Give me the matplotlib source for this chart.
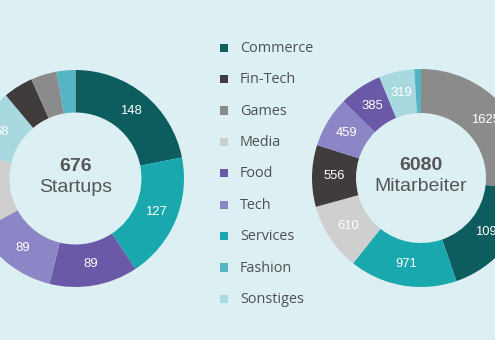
import matplotlib
matplotlib.use("Agg")
import matplotlib.pyplot as plt
import numpy as np
from matplotlib.patches import Rectangle

# Categories in legend order
categories = ["Commerce", "Fin-Tech", "Games", "Media", "Food", "Tech",
              "Services", "Fashion", "Sonstiges"]
colors = {
    "Commerce": "#0e5d5e",
    "Fin-Tech": "#403c3d",
    "Games": "#8c8b8b",
    "Media": "#cfcfcf",
    "Food": "#6a59a6",
    "Tech": "#8d86c6",
    "Services": "#19a8ad",
    "Fashion": "#55b5c4",
    "Sonstiges": "#a8d9e1",
}

# Startups per category (drawn largest first, clockwise)
startup_order = ["Commerce", "Services", "Food", "Tech", "Media",
                 "Sonstiges", "Fin-Tech", "Games", "Fashion"]
startup_values = [148, 127, 89, 89, 80, 68, 30, 26, 19]

# Employees per category (drawn largest first, clockwise)
staff_order = ["Games", "Commerce", "Services", "Media", "Fin-Tech",
               "Tech", "Food", "Sonstiges", "Fashion"]
staff_values = [1625, 1095, 971, 610, 556, 459, 385, 319, 60]

BG = "#dcf0f3"
W, H = 495, 340

fig = plt.figure(figsize=(W / 100, H / 100), dpi=100, facecolor=BG)
ax = fig.add_axes([0, 0, 1, 1])
ax.set_facecolor(BG)


def donut(order, values, cx, cy, r_out, r_in, total_txt, caption):
    wedges, _ = ax.pie(values, colors=[colors[c] for c in order],
                       startangle=90, counterclock=False,
                       radius=r_out, center=(cx, H - cy), frame=True,
                       wedgeprops=dict(width=r_out - r_in, linewidth=0))
    total = sum(values)
    r_mid = (r_out + r_in) / 2
    for w, v in zip(wedges, values):
        if v / total < 0.05:
            continue
        ang = np.deg2rad((w.theta1 + w.theta2) / 2)
        ax.text(cx + r_mid * np.cos(ang), H - cy + r_mid * np.sin(ang),
                f"{v}", color="white", ha="center", va="center",
                fontsize=9.4, family="Liberation Sans")
    ax.text(cx, H - cy + 12, total_txt, ha="center", va="center",
            fontsize=14, fontweight="bold", color="#565656",
            family="Liberation Sans")
    ax.text(cx, H - cy - 8.5, caption, ha="center", va="center",
            fontsize=14, color="#565656", family="Liberation Sans")


donut(startup_order, startup_values, 75.5, 178.5, 108.5, 66,
      f"{sum(startup_values)}", "Startups")
donut(staff_order, staff_values, 421, 178, 109, 65,
      f"{sum(staff_values)}", "Mitarbeiter")

# Legend column
for i, name in enumerate(categories):
    y = 47.8 + i * 31.4
    ax.add_patch(Rectangle((220, H - y - 4), 8.3, 8.3, color=colors[name],
                           linewidth=0))
    ax.text(240, H - y - 0.5, name, ha="left", va="center", fontsize=10.4,
            color="#4f4f4f", family="Open Sans")

ax.set_xlim(0, W)
ax.set_ylim(0, H)
ax.set_aspect("equal")
ax.axis("off")

fig.savefig("out.png", dpi=100, facecolor=BG)
